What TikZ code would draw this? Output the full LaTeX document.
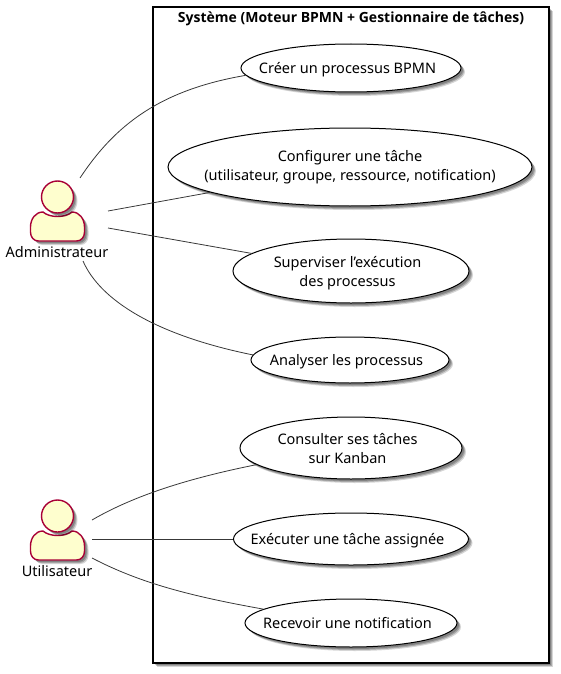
\documentclass[tikz,border=0pt]{standalone}
\usepackage{fontspec}
\setmainfont{Noto Sans}
\newfontfamily\titlefont{Open Sans}
\usetikzlibrary{shapes.geometric,shadows}

\definecolor{actorfill}{HTML}{FEFECE}
\definecolor{actorline}{HTML}{A80036}
\definecolor{linkline}{HTML}{383838}

\newcommand{\nudge}{\kern7pt}

\tikzset{
    softshadow/.style={
        drop shadow={shadow xshift=2pt,shadow yshift=-2pt,opacity=.22,fill=black},
        drop shadow={shadow xshift=3pt,shadow yshift=-3pt,opacity=.22,fill=black},
        drop shadow={shadow xshift=4pt,shadow yshift=-4pt,opacity=.16,fill=black}},
    usecase/.style={ellipse,draw=black,line width=1pt,fill=white,softshadow,text depth=0pt,
        inner xsep=-40pt,inner ysep=-8pt,align=center,font=\fontsize{14.5}{19}\selectfont},
    sysbox/.style={rectangle,draw=black,line width=1.5pt,fill=white,softshadow},
    actorname/.style={rectangle,inner sep=0pt,font=\fontsize{14.5}{19}\selectfont},
    link/.style={draw=linkline,line width=.8pt},
    actorpart/.style={draw=actorline,line width=1.4pt,fill=actorfill,softshadow},
    pics/actorfig/.style={code={
        \path[actorpart] (-14.5,15) .. controls (-8,21) and (8,21) .. (14.5,15)
            .. controls (22,15) and (27,22) .. (27,30) -- (27,35)
            .. controls (27,40) and (24,44) .. (19,44) -- (-19,44)
            .. controls (-24,44) and (-27,40) .. (-27,35) -- (-27,30)
            .. controls (-27,22) and (-22,15) .. (-14.5,15) -- cycle;
        \path[actorpart] (0,0) circle [radius=16];
    }}
}

\begin{document}
\begin{tikzpicture}[x=1pt,y=-1pt]
    \useasboundingbox (0,0) rectangle (560,674);

    %system box
    \node[sysbox,minimum width=396,minimum height=656] (sys) at (351,335) {};
    \node[font=\fontsize{14}{19}\titlefont\bfseries,inner sep=0pt] (systitle) at (351,19)
        {Système (Moteur BPMN + Gestionnaire de tâches)};

    %use cases
    \node[usecase,minimum width=220,minimum height=48] (create) at (351,68) {Créer un processus BPMN\nudge};
    \node[usecase,text depth=3.5pt,minimum width=364,minimum height=78] (config) at (350,167)
        {Configurer une tâche\\(utilisateur, groupe, ressource, notification)};
    \node[usecase,minimum width=236,minimum height=64] (monitor) at (351,271)
        {Superviser l’exécution\nudge\\des processus\nudge};
    \node[usecase,minimum width=198,minimum height=46] (analyse) at (350,360) {Analyser les processus\nudge};
    \node[usecase,minimum width=222,minimum height=62] (kanban) at (351,448)
        {Consulter ses tâches\nudge\\sur Kanban\nudge};
    \node[usecase,minimum width=235,minimum height=52] (execute) at (351,539) {Exécuter une tâche assignée\nudge};
    \node[usecase,minimum width=212,minimum height=48] (notify) at (351,623) {Recevoir une notification\nudge};

    %actors
    \pic at (57.5,197) {actorfig};
    \pic at (57.5,516) {actorfig};
    \node[actorname] (adminlabel) at (57,252) {Administrateur};
    \node[actorname] (userlabel) at (57,571) {Utilisateur};

    %free ends of the links
    \coordinate (admintop) at (80,178);
    \coordinate (adminup) at (108,211);
    \coordinate (admindown) at (108,228);
    \coordinate (adminlow) at (83,261);
    \coordinate (userup) at (92,520);
    \coordinate (usermid) at (92,539);
    \coordinate (userlow) at (92,558);

    %links
    \draw[link] (admintop) .. controls (115,125) and (160,90) .. (create.184);
    \draw[link] (adminup) -- (config);
    \draw[link] (admindown) -- (monitor);
    \draw[link] (adminlow) .. controls (100,300) and (155,335) .. (analyse.177);
    \draw[link] (userup) .. controls (135,495) and (190,478) .. (kanban.190);
    \draw[link] (usermid) -- (execute);
    \draw[link] (userlow) .. controls (140,583) and (190,596) .. (notify.171);
\end{tikzpicture}
\end{document}
